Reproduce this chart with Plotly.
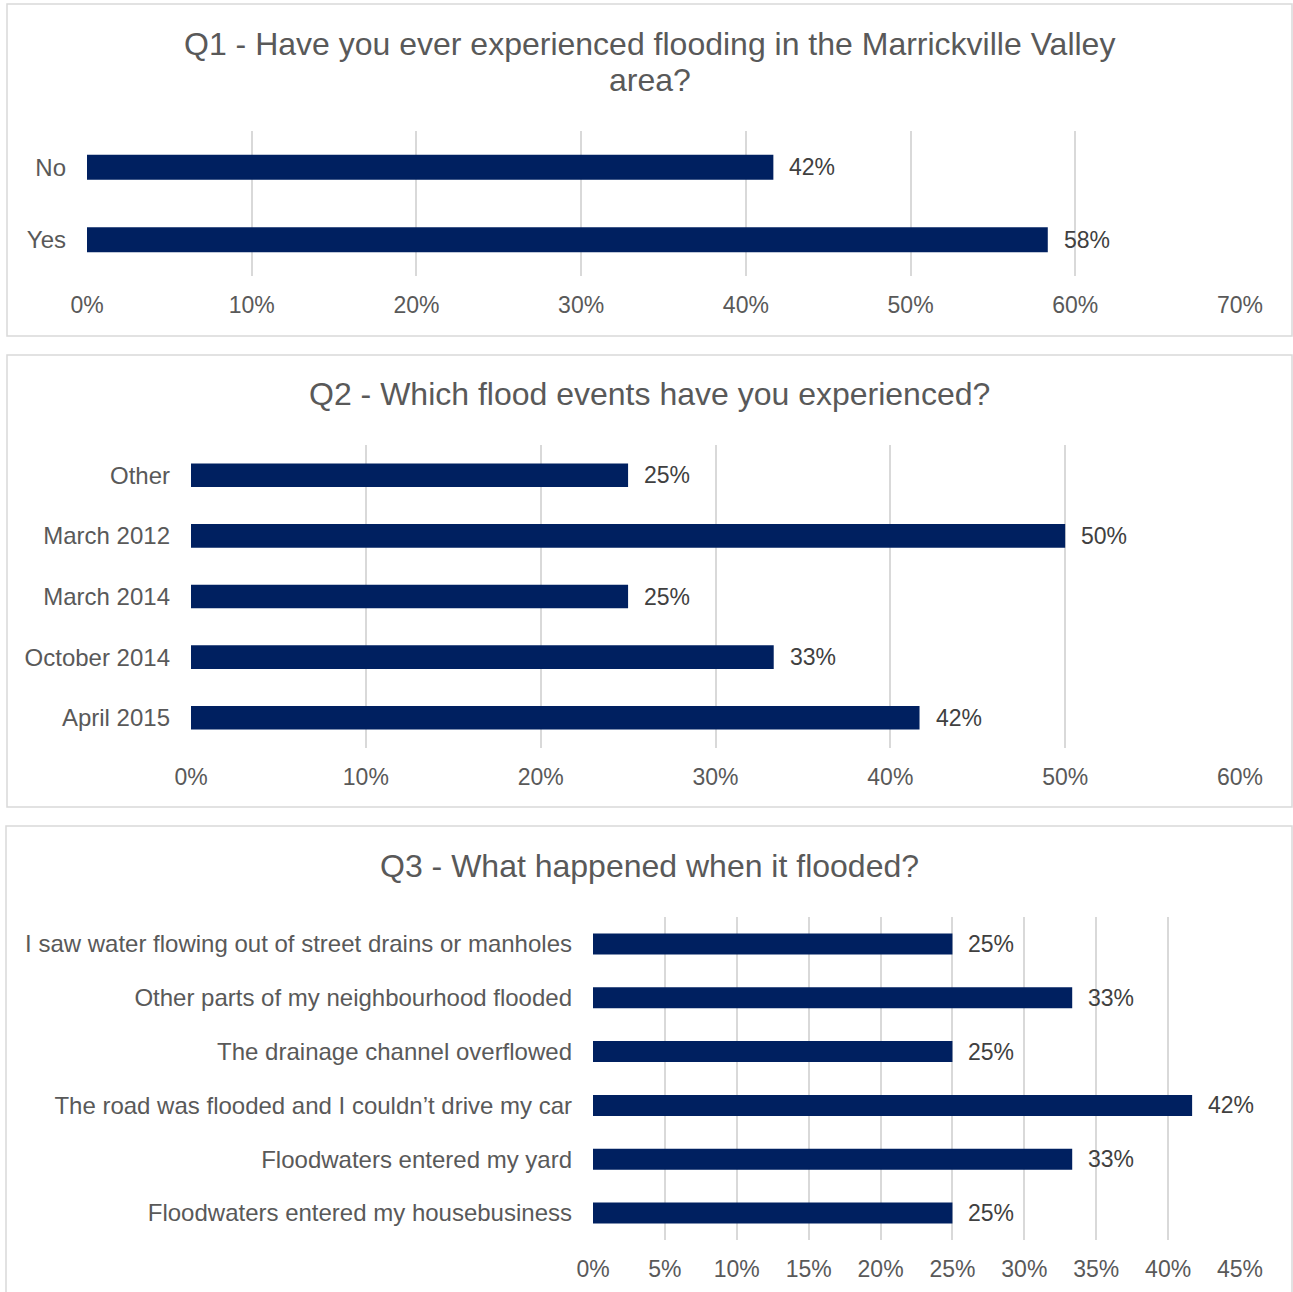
import plotly.graph_objects as go

W, H = 1293, 1292

q1_cats = ["No", "Yes"]
q1_vals = [0.4167, 0.5833]

q2_cats = ["Other", "March 2012", "March 2014", "October 2014", "April 2015"]
q2_vals = [0.25, 0.50, 0.25, 0.3333, 0.4167]

q3_cats = [
    "I saw water flowing out of street drains or manholes",
    "Other parts of my neighbourhood flooded",
    "The drainage channel overflowed",
    "The road was flooded and I couldn\u2019t drive my car",
    "Floodwaters entered my yard",
    "Floodwaters entered my housebusiness",
]
q3_vals = [0.25, 0.3333, 0.25, 0.4167, 0.3333, 0.25]

BAR = "#002060"
TXT = "#595959"
LBL = "#404040"
GRID = "#d9d9d9"
FONT = "Liberation Sans, Arial, sans-serif"
FS = 23
CS = 24
TS = 32

def px_x(p):
    return p / W

def px_y(p):
    return 1 - p / H

panels = [
    dict(cats=q1_cats, vals=q1_vals, xr=[0, 0.7], dt=0.1, x0=87, x1=1240, y0=131, y1=276, width=0.345),
    dict(cats=q2_cats, vals=q2_vals, xr=[0, 0.6], dt=0.1, x0=191, x1=1240, y0=445, y1=748, width=0.39),
    dict(cats=q3_cats, vals=q3_vals, xr=[0, 0.45], dt=0.05, x0=593, x1=1240, y0=917, y1=1240, width=0.39),
]

fig = go.Figure()
annotations = []
layout = {}
for i, p in enumerate(panels, start=1):
    sx = "" if i == 1 else str(i)
    fig.add_trace(go.Bar(
        x=p["vals"], y=p["cats"], orientation="h",
        marker=dict(color=BAR, line=dict(width=0)),
        width=p["width"],
        xaxis="x" + sx, yaxis="y" + sx,
        hoverinfo="skip", showlegend=False,
    ))
    layout["xaxis" + sx] = dict(
        domain=[px_x(p["x0"]), px_x(p["x1"])], range=p["xr"], dtick=p["dt"],
        tick0=0, tickformat=".0%", showgrid=True, gridcolor=GRID, gridwidth=2,
        zeroline=False, showline=False, ticks="", anchor="y" + sx, automargin=False,
        tickfont=dict(size=FS, color=TXT, family=FONT), ticklabelstandoff=13,
        fixedrange=True,
    )
    layout["yaxis" + sx] = dict(
        domain=[px_y(p["y1"]), px_y(p["y0"])], autorange="reversed",
        type="category", showgrid=False, zeroline=False, showline=False, ticks="",
        anchor="x" + sx, automargin=False,
        tickfont=dict(size=CS, color=TXT, family=FONT), ticklabelstandoff=20,
        fixedrange=True,
    )
    for c, v in zip(p["cats"], p["vals"]):
        annotations.append(dict(
            x=v, y=c, xref="x" + sx, yref="y" + sx, text=f"{round(v*100)}%",
            showarrow=False, xanchor="left", yanchor="middle", xshift=14,
            font=dict(size=FS, color=LBL, family=FONT),
        ))

titles = [
    ("Q1 - Have you ever experienced flooding in the Marrickville Valley", 44),
    ("area?", 80),
    ("Q2 - Which flood events have you experienced?", 394),
    ("Q3 - What happened when it flooded?", 866),
]
for t, yy in titles:
    annotations.append(dict(
        x=px_x(649.5), y=px_y(yy), xref="paper", yref="paper", text=t,
        showarrow=False, xanchor="center", yanchor="middle",
        font=dict(size=TS, color=TXT, family=FONT),
    ))

boxes = [(7, 4, 1292, 336), (7, 355, 1292, 807), (6, 826, 1292, 1298)]
shapes = []
for x0, y0, x1, y1 in boxes:
    shapes.append(dict(
        type="rect", xref="paper", yref="paper",
        x0=px_x(x0), x1=px_x(x1), y0=px_y(y1), y1=px_y(y0),
        line=dict(color="#d9d9d9", width=1.5), fillcolor="rgba(0,0,0,0)",
    ))

fig.update_layout(
    width=W, height=H, margin=dict(l=0, r=0, t=0, b=0, pad=0),
    paper_bgcolor="white", plot_bgcolor="white",
    annotations=annotations, shapes=shapes,
    font=dict(family=FONT, color=TXT),
    **layout,
)

fig.write_html(
    "out.html",
    config={"displayModeBar": False},
    post_script="document.body.style.margin='0';document.body.style.overflow='hidden';",
)
